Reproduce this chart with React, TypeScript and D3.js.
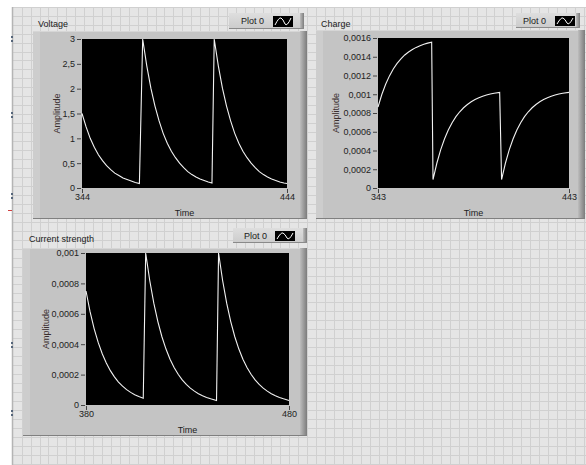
import React, { useEffect, useRef } from "react";
import * as d3 from "d3";

// values (three decays / charges per graph)
const voltageTime = [
  344, 346, 348, 350, 352, 354, 356, 358, 360, 362, 364, 366, 368, 370, 372,
  373.6, 375.6, 377.6, 379.6, 381.6, 383.6, 385.6, 387.6, 389.6, 391.6, 393.6, 395.6, 397.6, 399.6, 401.6, 403.6, 405.6, 407.4,
  408.5, 410.5, 412.5, 414.5, 416.5, 418.5, 420.5, 422.5, 424.5, 426.5, 428.5, 430.5, 432.5, 434.5, 436.5, 438.5, 440.5, 442.5, 444,
];
const voltageValues = [
  1.5, 1.23, 1.0, 0.82, 0.67, 0.55, 0.45, 0.37, 0.3, 0.25, 0.2, 0.17, 0.14, 0.11, 0.09,
  3.0, 2.46, 2.01, 1.65, 1.35, 1.1, 0.9, 0.74, 0.61, 0.5, 0.41, 0.33, 0.27, 0.22, 0.18, 0.15, 0.12, 0.1,
  3.0, 2.46, 2.01, 1.65, 1.35, 1.1, 0.9, 0.74, 0.61, 0.5, 0.41, 0.33, 0.27, 0.22, 0.18, 0.15, 0.12, 0.1, 0.09,
];
const voltageTicks = [0, 0.5, 1, 1.5, 2, 2.5, 3];
const voltageXTicks = [344, 444];

const chargeTime = [
  343, 345, 347, 349, 351, 353, 355, 357, 359, 361, 363, 365, 367, 369, 371.1,
  371.8, 373.8, 375.8, 377.8, 379.8, 381.8, 383.8, 385.8, 387.8, 389.8, 391.8, 393.8, 395.8, 397.8, 399.8, 401.8, 403.8, 406.7,
  407.7, 409.7, 411.7, 413.7, 415.7, 417.7, 419.7, 421.7, 423.7, 425.7, 427.7, 429.7, 431.7, 433.7, 435.7, 437.7, 439.7, 443,
];
const chargeValues = [
  0.000864, 0.000997, 0.001107, 0.001196, 0.001269, 0.001329, 0.001378, 0.001419, 0.001451, 0.001478, 0.0015, 0.001518, 0.001533, 0.001545, 0.001555,
  0.00009, 0.000264, 0.000407, 0.000523, 0.000619, 0.000697, 0.000761, 0.000813, 0.000856, 0.000891, 0.00092, 0.000944, 0.000963, 0.000979, 0.000992, 0.001002, 0.001011, 0.00102,
  0.00009, 0.000264, 0.000407, 0.000523, 0.000619, 0.000697, 0.000761, 0.000813, 0.000856, 0.000891, 0.00092, 0.000944, 0.000963, 0.000979, 0.000992, 0.001002, 0.001011, 0.00102,
];
const chargeTicks = [0, 0.0002, 0.0004, 0.0006, 0.0008, 0.001, 0.0012, 0.0014, 0.0016];
const chargeXTicks = [343, 443];

const currentTime = [
  380, 382, 384, 386, 388, 390, 392, 394, 396, 398, 400, 402, 404, 406, 408.2,
  409.4, 411.4, 413.4, 415.4, 417.4, 419.4, 421.4, 423.4, 425.4, 427.4, 429.4, 431.4, 433.4, 435.4, 437.4, 439.4, 441.4, 444.3,
  445.3, 447.3, 449.3, 451.3, 453.3, 455.3, 457.3, 459.3, 461.3, 463.3, 465.3, 467.3, 469.3, 471.3, 473.3, 475.3, 477.3, 480,
];
const currentValues = [
  0.00075, 0.000614, 0.000503, 0.000412, 0.000337, 0.000276, 0.000226, 0.000185, 0.000151, 0.000124, 0.000101, 0.000083, 0.000068, 0.000056, 0.000045,
  0.001, 0.000819, 0.00067, 0.000549, 0.000449, 0.000368, 0.000301, 0.000247, 0.000202, 0.000165, 0.000135, 0.000111, 0.000091, 0.000074, 0.000061, 0.00005, 0.000041, 0.00003,
  0.001, 0.000819, 0.00067, 0.000549, 0.000449, 0.000368, 0.000301, 0.000247, 0.000202, 0.000165, 0.000135, 0.000111, 0.000091, 0.000074, 0.000061, 0.00005, 0.000041, 0.00003,
];
const currentTicks = [0, 0.0002, 0.0004, 0.0006, 0.0008, 0.001];
const currentXTicks = [380, 480];

const W = 586;
const H = 465;
const FONT = "'Liberation Sans', Arial, sans-serif";

// layout of each graph panel (frame, plot area, legend box, label positions)
const panels = [
  {
    title: "Voltage", time: voltageTime, values: voltageValues, yTicks: voltageTicks, xTicks: voltageXTicks,
    titleX: 38, titleY: 27, frame: [33, 31, 307, 219], plot: [82, 39, 287, 188],
    legend: [229, 13, 304, 29], legendTextX: 241, iconX: 273, ampX: 57,
  },
  {
    title: "Charge", time: chargeTime, values: chargeValues, yTicks: chargeTicks, xTicks: chargeXTicks,
    titleX: 321, titleY: 27, frame: [316, 30, 585, 219], plot: [378, 38, 569, 188],
    legend: [516, 13, 580, 28], legendTextX: 523, iconX: 555, ampX: 336,
  },
  {
    title: "Current strength", time: currentTime, values: currentValues, yTicks: currentTicks, xTicks: currentXTicks,
    titleX: 29, titleY: 242, frame: [23, 248, 307, 436], plot: [86, 253, 289, 405],
    legend: [233, 228, 307, 243], legendTextX: 244, iconX: 275, ampX: 46,
  },
];

const fmt = (v: number) => String(v).replace(".", ",");

function drawPanel(svg: any, p: any) {
  const g = svg.append("g");
  const [fx0, fy0, fx1, fy1] = p.frame;
  const [px0, py0, px1, py1] = p.plot;

  // title
  g.append("text").attr("x", p.titleX).attr("y", p.titleY)
    .style("font-family", FONT).style("font-size", "9px").style("fill", "#1a1a1a")
    .text(p.title);

  // legend box
  const [lx0, ly0, lx1, ly1] = p.legend;
  g.append("rect").attr("x", lx0).attr("y", ly0).attr("width", lx1 - lx0).attr("height", ly1 - ly0)
    .attr("fill", "url(#legendFill)");
  g.append("rect").attr("x", lx1 - 4).attr("y", ly0).attr("width", 4).attr("height", ly1 - ly0)
    .attr("fill", "url(#edgeFill)");
  g.append("line").attr("x1", lx0).attr("x2", lx1).attr("y1", ly1 - 0.5).attr("y2", ly1 - 0.5)
    .attr("stroke", "#8a8a8a");
  g.append("text").attr("x", p.legendTextX).attr("y", ly0 + 11)
    .style("font-family", FONT).style("font-size", "9px").style("fill", "#1a1a1a")
    .text("Plot 0");
  const ix = p.iconX, iy = ly0 + 3, iw = 20, ih = ly1 - ly0 - 5;
  g.append("rect").attr("x", ix).attr("y", iy).attr("width", iw).attr("height", ih).attr("fill", "#000");
  g.append("path")
    .attr("d", `M${ix + 2},${iy + ih - 2} Q${ix + 6},${iy + 1} ${ix + 8},${iy + 2} Q${ix + 10},${iy + 3} ${ix + 12},${iy + ih - 3} Q${ix + 14},${iy + ih} ${ix + 18},${iy + 2}`)
    .attr("fill", "none").attr("stroke", "#fff").attr("stroke-width", 1);

  // frame
  g.append("rect").attr("x", fx0).attr("y", fy0).attr("width", fx1 - fx0).attr("height", fy1 - fy0)
    .attr("fill", "#c4c4c4");
  g.append("rect").attr("x", fx0).attr("y", fy0).attr("width", 7).attr("height", fy1 - fy0)
    .attr("fill", "#cdcdcd");
  g.append("line").attr("x1", fx0).attr("x2", fx1).attr("y1", fy0 + 0.5).attr("y2", fy0 + 0.5)
    .attr("stroke", "#d6d6d6");
  g.append("rect").attr("x", fx1 - 7).attr("y", fy0).attr("width", 7).attr("height", fy1 - fy0)
    .attr("fill", "url(#edgeFill)");
  g.append("line").attr("x1", fx0).attr("x2", fx1).attr("y1", fy1 - 0.5).attr("y2", fy1 - 0.5)
    .attr("stroke", "#808080");

  // scales
  const x = d3.scaleLinear().domain([p.xTicks[0], p.xTicks[1]]).range([px0, px1]);
  const y = d3.scaleLinear().domain([0, p.yTicks[p.yTicks.length - 1]]).range([py1, py0]);

  g.append("rect").attr("x", px0).attr("y", py0).attr("width", px1 - px0).attr("height", py1 - py0)
    .attr("fill", "#000");

  // y axis
  const yAxis = d3.axisLeft(y).tickValues(p.yTicks).tickSize(4).tickPadding(2).tickFormat((d: any) => fmt(d));
  const ya = g.append("g").attr("transform", `translate(${px0 - 1},0)`).call(yAxis);
  ya.select(".domain").remove();
  ya.selectAll("line").attr("stroke", "#444");
  ya.selectAll("text").style("font-family", FONT).style("font-size", "9px").style("fill", "#222");

  // x axis
  const xAxis = d3.axisBottom(x).tickValues(p.xTicks).tickSize(4).tickPadding(1).tickFormat((d: any) => String(d));
  const xa = g.append("g").attr("transform", `translate(0,${py1 + 1})`).call(xAxis);
  xa.select(".domain").remove();
  xa.selectAll("line").attr("stroke", "#444");
  xa.selectAll("text").style("font-family", FONT).style("font-size", "9px").style("fill", "#222");

  // axis titles
  g.append("text").attr("x", (px0 + px1) / 2).attr("y", py1 + 28).attr("text-anchor", "middle")
    .style("font-family", FONT).style("font-size", "9px").style("fill", "#222").text("Time");
  g.append("text")
    .attr("transform", `translate(${p.ampX},${(py0 + py1) / 2}) rotate(-90)`)
    .attr("text-anchor", "middle").attr("dy", "0.35em")
    .style("font-family", FONT).style("font-size", "9px").style("fill", "#3a2e2e").text("Amplitude");

  // signal
  const pts = p.time.map((t: number, i: number) => [t, p.values[i]]);
  const line = d3.line<number[]>().x((d) => x(d[0])).y((d) => y(d[1]));
  g.append("path").datum(pts).attr("d", line)
    .attr("fill", "none").attr("stroke", "#f2f2f2").attr("stroke-width", 1.1);
}

export default function App() {
  const svgRef = useRef<SVGSVGElement>(null);

  useEffect(() => {
    const svg = d3.select(svgRef.current);
    svg.selectAll("*").remove();

    const defs = svg.append("defs");
    const edge = defs.append("linearGradient").attr("id", "edgeFill");
    edge.append("stop").attr("offset", "0%").attr("stop-color", "#bdbdbd");
    edge.append("stop").attr("offset", "100%").attr("stop-color", "#7c7c7c");
    const leg = defs.append("linearGradient").attr("id", "legendFill").attr("x2", 0).attr("y2", 1);
    leg.append("stop").attr("offset", "0%").attr("stop-color", "#dedede");
    leg.append("stop").attr("offset", "100%").attr("stop-color", "#cbcbcb");

    // LabVIEW front panel grid
    svg.append("rect").attr("width", W).attr("height", H).attr("fill", "#fff");
    svg.append("rect").attr("x", 13).attr("y", 7).attr("width", W - 13).attr("height", H - 7).attr("fill", "#e5e5e5");
    const grid = svg.append("g").attr("stroke", "#d0d0d0").attr("stroke-width", 1);
    grid.selectAll("line.v").data(d3.range(21.7, W, 8.92)).join("line").attr("class", "v")
      .attr("x1", (d) => Math.round(d) + 0.5).attr("x2", (d) => Math.round(d) + 0.5).attr("y1", 7).attr("y2", H);
    grid.selectAll("line.h").data(d3.range(6.7, H, 8.96)).join("line").attr("class", "h")
      .attr("y1", (d) => Math.round(d) + 0.5).attr("y2", (d) => Math.round(d) + 0.5).attr("x1", 13).attr("x2", W);
    svg.append("line").attr("x1", 12.5).attr("x2", 12.5).attr("y1", 7).attr("y2", H)
      .attr("stroke", "#b4b4b4").attr("stroke-width", 1.5);

    // small markers on the left edge
    const marks = [36, 40, 112, 116, 193, 197, 342, 346, 410, 414];
    svg.selectAll("rect.mk").data(marks).join("rect").attr("class", "mk")
      .attr("x", 11).attr("y", (d) => d).attr("width", 2).attr("height", 2).attr("fill", "#55657a");
    svg.append("rect").attr("x", 8).attr("y", 210).attr("width", 4).attr("height", 1).attr("fill", "#d04040");

    panels.forEach((p) => drawPanel(svg, p));
  }, []);

  return <svg ref={svgRef} width={W} height={H} style={{ position: "absolute", left: 0, top: 0 }} />;
}
